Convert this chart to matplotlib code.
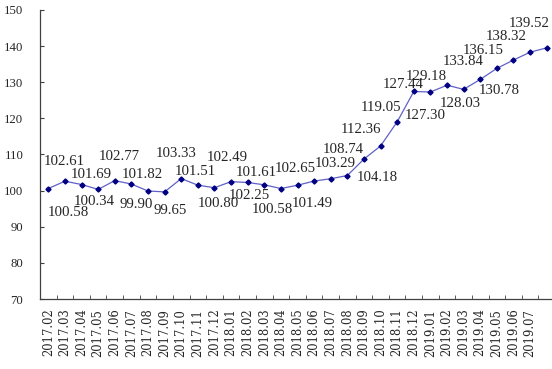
import matplotlib.pyplot as plt

months = ['2017.02', '2017.03', '2017.04', '2017.05', '2017.06', '2017.07', '2017.08',
          '2017.09', '2017.10', '2017.11', '2017.12', '2018.01', '2018.02', '2018.03',
          '2018.04', '2018.05', '2018.06', '2018.07', '2018.08', '2018.09', '2018.10',
          '2018.11', '2018.12', '2019.01', '2019.02', '2019.03', '2019.04', '2019.05',
          '2019.06', '2019.07', '']
values = [100.58, 102.61, 101.69, 100.34, 102.77, 101.82, 99.90, 99.65, 103.33, 101.51,
          100.80, 102.49, 102.25, 101.61, 100.58, 101.49, 102.65, 103.29, 104.18, 108.74,
          112.36, 119.05, 127.44, 127.30, 129.18, 128.03, 130.78, 133.84, 136.15, 138.32,
          139.52]

# label offsets in pixels (dx right, dy down) relative to each point
offsets = [(20, 24), (-1, -20), (10, -10), (-4, 12), (4, -24), (11, -10), (-12, 14),
           (6, 19), (-5, -25), (-2, -14), (4, 16), (-4, -24), (2, 13), (-8, -12),
           (-9, 21), (15, 18), (-19, -13), (5, -15), (30, 2), (-21, -10), (-20, -16),
           (-16, -14), (-11, -7), (-5, 23), (-21, -9), (-3, 14), (19, 11), (-34, -7),
           (-30, -10), (-24, -16), (-17, -24)]

fig = plt.figure(figsize=(5.52, 3.69), dpi=100)
ax = fig.add_axes([40 / 552, 70 / 369, 515 / 552, 289 / 369])

x = list(range(len(values)))
ax.plot(x, values, color='#6060C8', linewidth=0.9, marker='D', markersize=2.6,
        markerfacecolor='#000080', markeredgecolor='#000080', zorder=3)

for xi, yi, (dx, dy) in zip(x, values, offsets):
    ax.annotate(f'{yi:.2f}', (xi, yi), xytext=(dx, -dy), textcoords='offset pixels',
                ha='center', va='center', fontsize=10.7, family='Liberation Serif',
                color='#262626')

ax.set_xlim(-0.5, len(values) - 0.5)
ax.set_ylim(70, 150)
ax.set_yticks(range(70, 151, 10))
ax.set_xticks(x)
ax.set_xticklabels(months, rotation=90, family='DejaVu Serif', fontsize=8.3, color='#262626')
ax.set_xticks([i + 0.5 for i in x], minor=True)
for lab in ax.get_yticklabels():
    lab.set_family('Liberation Serif')
    lab.set_fontsize(9.2)
    lab.set_color('#262626')

ax.tick_params(axis='x', which='major', length=0, pad=7)
ax.tick_params(axis='x', which='minor', direction='in', length=3, color='#404040')
ax.tick_params(axis='y', direction='in', length=3, color='#404040', pad=12)

for s in ('top', 'right'):
    ax.spines[s].set_visible(False)
for s in ('left', 'bottom'):
    ax.spines[s].set_color('#404040')
    ax.spines[s].set_linewidth(0.9)

fig.savefig('out.png', dpi=100)
